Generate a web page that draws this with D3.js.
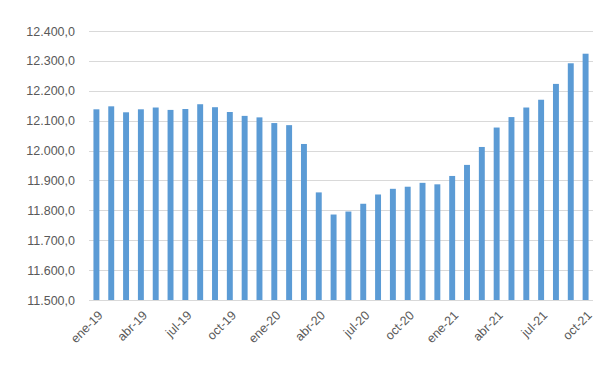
<!DOCTYPE html>
<html>
<head>
<meta charset="utf-8">
<script src="https://cdn.jsdelivr.net/npm/d3@7"></script>
<style>
  body { margin: 0; background: #fff; }
  svg text { font-family: "Liberation Sans", Arial, sans-serif; fill: #595959; }
</style>
</head>
<body>
<div id="chart"></div>
<script>
// ----- DATA
const months = ["ene", "feb", "mar", "abr", "may", "jun", "jul", "ago", "sep", "oct", "nov", "dic"];
const years = ["19", "20", "21"];
const categories = [];
years.forEach(function (yy) {
    months.forEach(function (m) { categories.push(m + "-" + yy); });
});
categories.splice(34); // ene-19 .. oct-21

const values = [
    12138, 12148, 12128, 12138, 12144, 12136, 12139, 12155, 12145, 12129, 12116, 12111,
    12092, 12085, 12022, 11860, 11786, 11796, 11822, 11853, 11872, 11879, 11892, 11887,
    11915, 11952, 12012, 12077, 12112, 12144, 12170, 12223, 12292, 12324
];

const yTicks = [11500, 11600, 11700, 11800, 11900, 12000, 12100, 12200, 12300, 12400];
const xTickLabels = categories.filter(function (d, i) { return i % 3 === 0; });

// ----- FIGURE
const size = { width: 608, height: 366 };
const plot = { left: 89, right: 593, top: 31, bottom: 300 };

const svg = d3.select("#chart")
    .append("svg")
    .attr("width", size.width)
    .attr("height", size.height);

const x = d3.scaleBand()
    .domain(categories)
    .range([plot.left, plot.right])
    .paddingInner(0.6)
    .paddingOuter(0.3);

const y = d3.scaleLinear()
    .domain([11500, 12400])
    .range([plot.bottom, plot.top]);

// gridlines
svg.append("g")
    .selectAll("line")
    .data(yTicks)
    .join("line")
    .attr("x1", plot.left)
    .attr("x2", plot.right)
    .attr("y1", function (d) { return Math.round(y(d)) + 0.5; })
    .attr("y2", function (d) { return Math.round(y(d)) + 0.5; })
    .attr("stroke", "#d9d9d9")
    .attr("stroke-width", 1);

// y axis labels
const fmt = function (d) {
    return d3.format(",.1f")(d).replace(/,/g, "#").replace(".", ",").replace(/#/g, ".");
};
const yAxis = d3.axisLeft(y).tickValues(yTicks).tickSize(0).tickPadding(14).tickFormat(fmt);
svg.append("g")
    .attr("transform", "translate(" + plot.left + ",0)")
    .call(yAxis)
    .call(function (g) { g.select(".domain").remove(); })
    .selectAll("text")
    .style("font-size", "12.5px");

// bars
svg.append("g")
    .selectAll("rect")
    .data(values)
    .join("rect")
    .attr("x", function (d, i) { return x(categories[i]); })
    .attr("width", x.bandwidth())
    .attr("y", function (d) { return y(d); })
    .attr("height", function (d) { return y(11500) - y(d); })
    .attr("fill", "#5b9bd5");

// x axis
const xAxis = d3.axisBottom(x).tickValues(xTickLabels).tickSize(0).tickPadding(0);
svg.append("g")
    .attr("transform", "translate(0," + plot.bottom + ")")
    .call(xAxis)
    .call(function (g) {
        g.select(".domain").attr("stroke", "#d9d9d9").attr("d", "M" + plot.left + ",0.5H" + plot.right);
    })
    .selectAll("text")
    .style("font-size", "12.5px")
    .attr("text-anchor", "end")
    .attr("x", 0)
    .attr("y", 0)
    .attr("dy", "0.35em")
    .attr("transform", "translate(4,13) rotate(-45)");
</script>
</body>
</html>
